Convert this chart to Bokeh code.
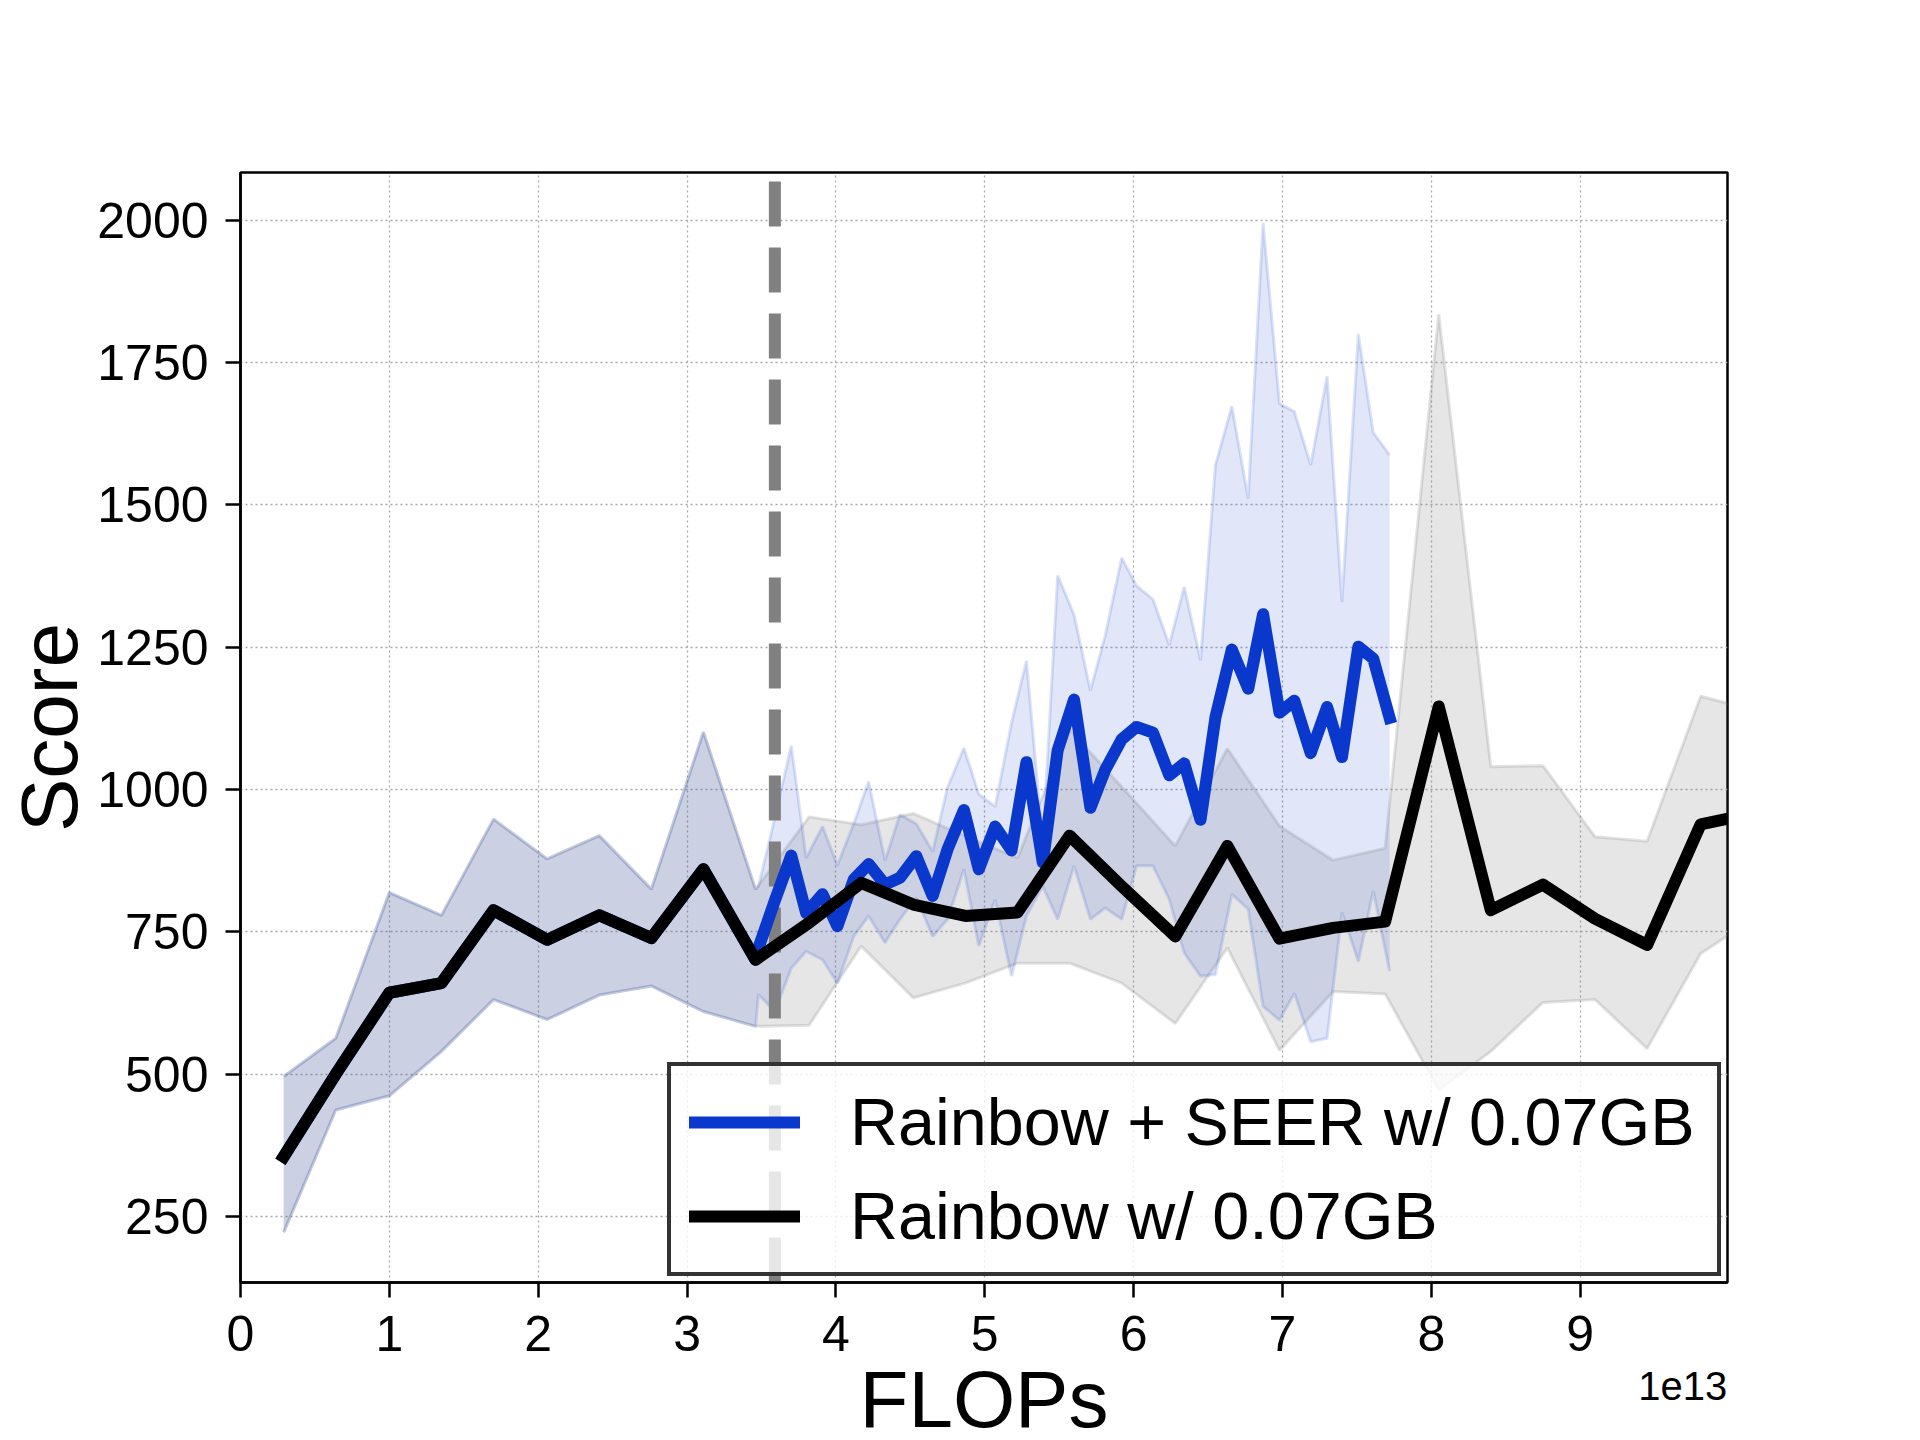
from bokeh.plotting import figure
from bokeh.models import Range1d, FixedTicker, Legend, LegendItem, LinearAxis
from bokeh.embed import file_html
from bokeh.resources import INLINE

# ---------------- data (FLOPs in units of 1e13) ----------------
rainbow_flops = [0.29, 0.64, 1.00, 1.35, 1.70, 2.06, 2.41, 2.76, 3.11, 3.46,
                 3.82, 4.17, 4.52, 4.87, 5.22, 5.57, 5.92, 6.28, 6.63, 6.98,
                 7.34, 7.69, 8.05, 8.40, 8.75, 9.10, 9.45, 9.81, 10.16]
rainbow_score = [355, 500, 643, 660, 788, 736, 779, 739, 860, 701,
                 766, 836, 798, 778, 784, 919, 830, 742, 901, 738,
                 757, 768, 1146, 788, 833, 773, 727, 939, 958]
rainbow_upper = [496, 563, 819, 779, 948, 878, 919, 825, 1101, 825,
                 952, 938, 958, 918, 880, 1105, 1005, 901, 1072, 936,
                 876, 897, 1835, 1040, 1042, 917, 909, 1164, 1140]
rainbow_lower = [222, 437, 462, 540, 631, 596, 639, 655, 610, 584,
                 586, 725, 634, 660, 695, 695, 660, 589, 722, 542,
                 645, 641, 472, 540, 626, 631, 545, 712, 772]

# SEER run: shares the Rainbow run up to the freeze point, then continues
shared_points = 10
seer_flops = [3.48, 3.59, 3.70, 3.80, 3.91, 4.01, 4.12, 4.22, 4.33, 4.43,
              4.54, 4.65, 4.75, 4.86, 4.96, 5.07, 5.18, 5.28, 5.39, 5.49,
              5.60, 5.71, 5.81, 5.92, 6.02, 6.13, 6.24, 6.34, 6.45, 6.55,
              6.66, 6.77, 6.87, 6.98, 7.08, 7.19, 7.30, 7.40, 7.51, 7.61, 7.72]
seer_score = [722, 805, 884, 783, 816, 760, 842, 869, 833, 845,
              883, 813, 895, 964, 860, 935, 893, 1048, 872, 1069,
              1158, 968, 1035, 1088, 1110, 1100, 1025, 1046, 947, 1127,
              1246, 1177, 1308, 1135, 1156, 1064, 1145, 1057, 1251, 1230, 1126]
seer_upper = [830, 950, 1077, 880, 935, 867, 940, 1014, 875, 956,
              940, 891, 1004, 1073, 992, 970, 1117, 1226, 905, 1376,
              1307, 1174, 1271, 1407, 1358, 1334, 1254, 1356, 1227, 1570,
              1673, 1511, 1995, 1678, 1664, 1570, 1726, 1329, 1800, 1627, 1588]
seer_lower = [640, 610, 686, 716, 701, 660, 742, 778, 731, 772,
              810, 742, 772, 860, 725, 807, 672, 778, 830, 772,
              866, 772, 792, 772, 866, 866, 807, 713, 672, 675,
              816, 790, 619, 595, 642, 557, 563, 784, 698, 822, 681]

freeze_flops = 3.59
x_ticks = [0, 1, 2, 3, 4, 5, 6, 7, 8, 9]
y_ticks = [250, 500, 750, 1000, 1250, 1500, 1750, 2000]
x_limits = (0, 9.99)
y_limits = (134, 2084)

label_seer = "Rainbow + SEER w/ 0.07GB"
label_rainbow = "Rainbow w/ 0.07GB"
x_title = "FLOPs"
y_title = "Score"
x_offset_text = "1e13"
x_offset_text_pos = 9.69   # where matplotlib puts the offset text (right end)

# full SEER series (shared prefix + own points)
seer_x = rainbow_flops[:shared_points] + seer_flops
seer_y = rainbow_score[:shared_points] + seer_score
seer_hi = rainbow_upper[:shared_points] + seer_upper
seer_lo = rainbow_lower[:shared_points] + seer_lower

BLUE = "#0a38cc"
FONT = "Liberation Sans"

p = figure(frame_width=1487, frame_height=1110,
           min_border_left=240, min_border_right=177,
           min_border_top=172, min_border_bottom=150,
           x_range=Range1d(*x_limits), y_range=Range1d(*y_limits),
           output_backend="svg", toolbar_location=None,
           background_fill_color="white", border_fill_color="white")

# bands
p.varea(x=rainbow_flops, y1=rainbow_lower, y2=rainbow_upper,
        fill_color="#808080", fill_alpha=0.2)
p.varea(x=seer_x, y1=seer_lo, y2=seer_hi, fill_color=BLUE, fill_alpha=0.12)
for ys in (rainbow_upper, rainbow_lower):
    p.line(rainbow_flops, ys, line_color="#808080", line_alpha=0.22, line_width=3)
for ys in (seer_hi, seer_lo):
    p.line(seer_x, ys, line_color=BLUE, line_alpha=0.14, line_width=3)

# freeze marker
p.segment(x0=[freeze_flops], y0=[y_limits[0]], x1=[freeze_flops], y1=[y_limits[1]],
          line_color="#808080", line_width=12, line_dash="45 21")

# main curves
r_seer = p.line(seer_x, seer_y, line_color=BLUE, line_width=12,
                line_join="round", line_cap="square")
r_rain = p.line(rainbow_flops, rainbow_score, line_color="black", line_width=12,
                line_join="round", line_cap="square")

# axes
for ax in (p.xaxis[0], p.yaxis[0]):
    ax.axis_line_width = 2.5
    ax.axis_line_color = "black"
    ax.major_tick_line_width = 2.5
    ax.major_tick_line_color = "black"
    ax.major_tick_out = 15
    ax.major_tick_in = 0
    ax.minor_tick_out = 0
    ax.minor_tick_in = 0
    ax.major_label_text_font = FONT
    ax.major_label_text_font_size = "50px"
    ax.major_label_text_color = "black"
    ax.axis_label_text_font = FONT
    ax.axis_label_text_font_size = "80px"
    ax.axis_label_text_font_style = "normal"
    ax.axis_label_text_color = "black"
p.xaxis.ticker = FixedTicker(ticks=x_ticks)
p.yaxis.ticker = FixedTicker(ticks=y_ticks)
p.xaxis.major_label_standoff = 18
p.yaxis.major_label_standoff = 17
p.yaxis.axis_label = y_title
p.yaxis.axis_label_standoff = 0

# second, tick-less bottom axis carrying the offset text and the x title
offset_axis = LinearAxis(ticker=FixedTicker(ticks=[x_offset_text_pos]),
                         major_label_overrides={x_offset_text_pos: x_offset_text},
                         axis_line_color=None, major_tick_line_color=None,
                         minor_tick_line_color=None,
                         major_tick_out=0, major_tick_in=0,
                         minor_tick_out=0, minor_tick_in=0,
                         major_label_standoff=18,
                         major_label_text_font=FONT,
                         major_label_text_font_size="40px",
                         major_label_text_color="black",
                         axis_label=x_title, axis_label_standoff=-48,
                         axis_label_text_font=FONT,
                         axis_label_text_font_size="80px",
                         axis_label_text_font_style="normal",
                         axis_label_text_color="black")
p.add_layout(offset_axis, "below")

for g in (p.xgrid[0], p.ygrid[0]):
    g.grid_line_color = "#a8a8a8"
    g.grid_line_dash = "2 3"
    g.grid_line_width = 1.3

p.outline_line_color = "black"
p.outline_line_width = 2.5
p.outline_line_alpha = 1.0

# legend
legend = Legend(items=[LegendItem(label=label_seer, renderers=[r_seer]),
                       LegendItem(label=label_rainbow, renderers=[r_rain])],
                location=(427, 6))
legend.label_text_font = FONT
legend.label_text_font_size = "66.5px"
legend.label_text_color = "black"
legend.glyph_width = 111
legend.glyph_height = 40
legend.label_standoff = 50
legend.label_width = 849
legend.label_height = 75
legend.spacing = 18
legend.padding = 18
legend.margin = 0
legend.border_line_color = "#333333"
legend.border_line_width = 4
legend.border_line_alpha = 1.0
legend.background_fill_color = "white"
legend.background_fill_alpha = 0.8
p.add_layout(legend, "center")

open("out.html", "w").write(file_html(p, INLINE))
